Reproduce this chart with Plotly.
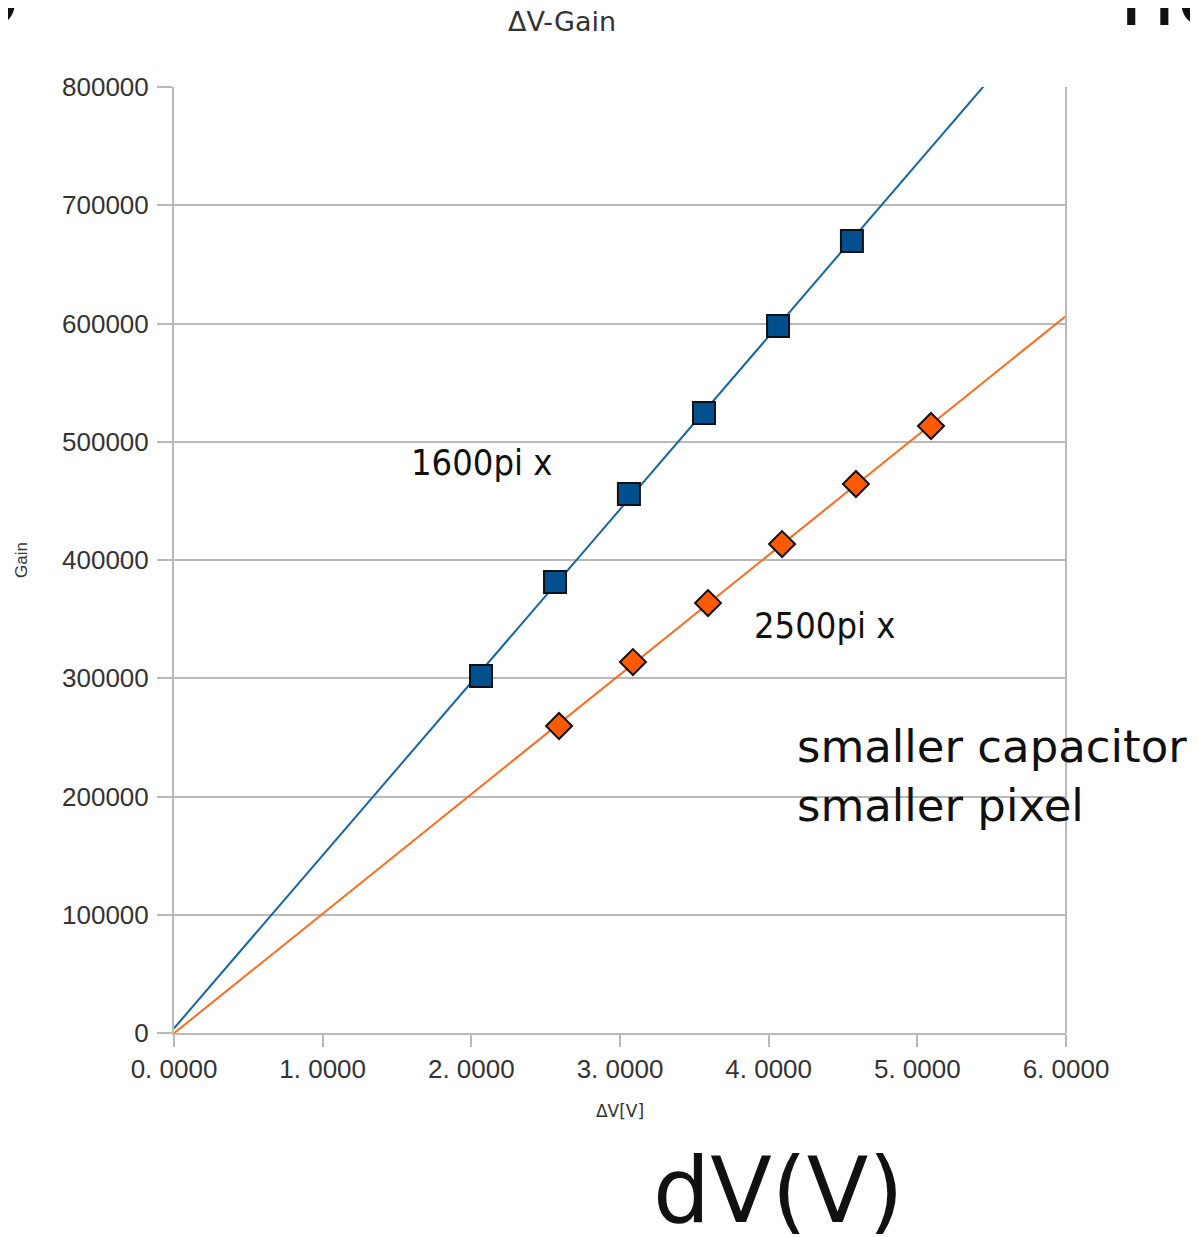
import numpy as np
import plotly.graph_objects as go

# Data
dv_1600 = [2.065, 2.563, 3.060, 3.565, 4.063, 4.560]
gain_1600 = [302000, 381400, 455800, 524300, 597900, 669800]
dv_2500 = [2.590, 3.087, 3.592, 4.090, 4.587, 5.092]
gain_2500 = [259600, 313700, 363600, 413500, 464300, 513300]

x_ticks = [0, 1, 2, 3, 4, 5, 6]
x_tick_text = ["0. 0000", "1. 0000", "2. 0000", "3. 0000", "4. 0000", "5. 0000", "6. 0000"]
y_ticks = [0, 100000, 200000, 300000, 400000, 500000, 600000, 700000, 800000]
y_tick_text = [str(v) for v in y_ticks]
x_range = [0, 6]
y_range = [0, 800000]

BLUE_LINE = "#1565a6"
BLUE_FILL = "#00508f"
OR_LINE = "#ff6a1c"
OR_FILL = "#ff5a00"
GRID = "#b9b9b9"
TXT = "#333333"

fig = go.Figure()

# linear trend lines (least squares)
xs = np.array(x_range, dtype=float)
for xd, yd, col in [(dv_1600, gain_1600, BLUE_LINE), (dv_2500, gain_2500, OR_LINE)]:
    k, b = np.polyfit(xd, yd, 1)
    fig.add_trace(go.Scatter(x=xs, y=k * xs + b, mode="lines",
                             line=dict(color=col, width=2), hoverinfo="skip",
                             showlegend=False))

fig.add_trace(go.Scatter(x=dv_1600, y=gain_1600, mode="markers", showlegend=False,
                         marker=dict(symbol="square", size=22, color=BLUE_FILL,
                                     line=dict(color="#111111", width=2))))
fig.add_trace(go.Scatter(x=dv_2500, y=gain_2500, mode="markers", showlegend=False,
                         marker=dict(symbol="diamond", size=20, color=OR_FILL,
                                     line=dict(color="#111111", width=2))))

# screen geometry (page has an 8px body offset)
PL, PR, PT, PB = 174, 1066, 87, 1033

fig.update_layout(
    width=1190, height=1229,
    margin=dict(l=PL - 8, r=1190 - (PR - 8), t=PT - 8, b=1229 - (PB - 8), autoexpand=False),
    paper_bgcolor="white", plot_bgcolor="white",
    font=dict(family="Liberation Sans, Arial, sans-serif", color=TXT),
)

fig.update_xaxes(
    range=x_range, tickvals=x_ticks, ticktext=x_tick_text,
    showgrid=False, zeroline=False,
    showline=True, linecolor=GRID, linewidth=2, mirror=False,
    ticks="outside", ticklen=12, tickwidth=2, tickcolor=GRID,
    tickfont=dict(size=26, color=TXT),
    title=dict(text="ΔV[V]", font=dict(family="DejaVu Sans", size=17, color=TXT), standoff=22),
)
fig.update_yaxes(
    range=y_range, tickvals=y_ticks, ticktext=y_tick_text,
    showgrid=True, gridcolor=GRID, gridwidth=1.5, zeroline=False,
    showline=True, linecolor=GRID, linewidth=2,
    ticks="outside", ticklen=15, tickwidth=2, tickcolor=GRID, ticklabelstandoff=3,
    tickfont=dict(size=26, color=TXT),
    title=dict(text="Gain", font=dict(size=17, color=TXT), standoff=30),
)

# right border of plot area
fig.add_shape(type="line", xref="paper", yref="paper", x0=1, x1=1, y0=0, y1=1,
              line=dict(color=GRID, width=2))

def px_x(p):
    return (p - PL) / (PR - PL)

def px_y(p):
    return (PB - p) / (PB - PT)

anns = [
    dict(text="ΔV-Gain", x=px_x(562), y=px_y(21),
         font=dict(family="DejaVu Sans", size=27, color=TXT)),
    dict(text="1600pi x", x=px_x(481), y=px_y(463),
         font=dict(family="DejaVu Sans Condensed, Liberation Sans Narrow, Liberation Sans", size=36, color="#111111")),
    dict(text="2500pi x", x=px_x(824), y=px_y(625),
         font=dict(family="DejaVu Sans Condensed, Liberation Sans Narrow, Liberation Sans", size=36, color="#111111")),
    dict(text="smaller capacitor<br>smaller pixel", x=px_x(796), y=px_y(776), xanchor="left", align="left",
         borderpad=0, font=dict(family="DejaVu Sans", size=45, color="#111111")),
    dict(text="dV(V)", x=px_x(778), y=px_y(1190), font=dict(family="DejaVu Sans", size=90, color="#111111")),
    dict(text="no", x=px_x(1117), y=px_y(48), xanchor="left", yanchor="bottom",
         font=dict(family="DejaVu Sans", size=90, color="#111111")),
    dict(text="o", x=px_x(22), y=px_y(48), xanchor="right", yanchor="bottom",
         font=dict(family="DejaVu Sans", size=90, color="#111111")),
]
for a in anns:
    base = dict(xref="paper", yref="paper", showarrow=False, xanchor="center", yanchor="middle")
    base.update(a)
    fig.add_annotation(**base)

fig.write_html("out.html")
